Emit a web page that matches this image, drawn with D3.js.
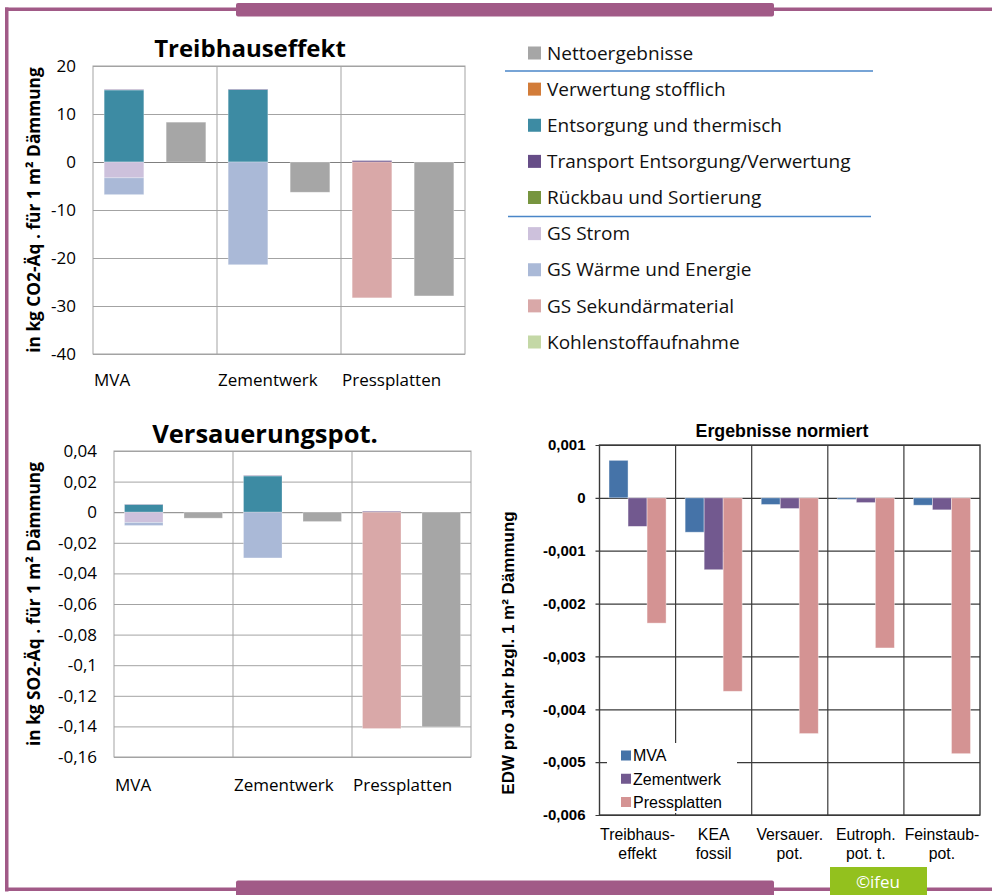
<!DOCTYPE html>
<html>
<head>
<meta charset="utf-8">
<script src="https://cdn.jsdelivr.net/npm/d3@7"></script>
<style>
  body { margin: 0; background: #fff; }
  svg { display: block; }
</style>
</head>
<body>
<svg id="chart" width="992" height="895"></svg>
<script>
// ---------- data ----------
const groups = ["MVA", "Zementwerk", "Pressplatten"];

const seriesNames = [
  "Nettoergebnisse",
  "Verwertung stofflich",
  "Entsorgung und thermisch",
  "Transport Entsorgung/Verwertung",
  "Rückbau und Sortierung",
  "GS Strom",
  "GS Wärme und Energie",
  "GS Sekundärmaterial",
  "Kohlenstoffaufnahme"
];
const seriesColors = ["#a6a6a6", "#d27c39", "#3d8ba3", "#664d87", "#77953f",
                      "#cdc1dc", "#aab9d7", "#d9a8a8", "#c4d8a6"];

// Treibhauseffekt, kg CO2-Äq. per m² insulation (MVA, Zementwerk, Pressplatten)
const thgVerwertung  = [0, 0, 0];
const thgEntsorgung  = [15.0, 15.1, 0];
const thgTransport   = [0.1, 0.1, 0.3];
const thgRueckbau    = [0, 0, 0];
const thgStrom       = [-3.3, 0, 0];
const thgWaerme      = [-3.5, -21.4, 0];
const thgSekundaer   = [0, 0, -28.3];
const thgKohlenstoff = [0, 0, 0];
const thgNetto       = [8.3, -6.3, -27.9];
const thgTicks       = [20, 10, 0, -10, -20, -30, -40];

// Versauerungspotenzial, kg SO2-Äq. per m² insulation
const apVerwertung  = [0, 0, 0];
const apEntsorgung  = [0.005, 0.0237, 0];
const apTransport   = [0.0002, 0.0003, 0.0006];
const apRueckbau    = [0, 0, 0];
const apStrom       = [-0.0067, 0, 0];
const apWaerme      = [-0.002, -0.0299, 0];
const apSekundaer   = [0, 0, -0.1414];
const apKohlenstoff = [0, 0, 0];
const apNetto       = [-0.0039, -0.0061, -0.1403];
const apTicks       = [0.04, 0.02, 0, -0.02, -0.04, -0.06, -0.08, -0.1, -0.12, -0.14, -0.16];

// Normalised results, EDW per year per m² insulation
const normCategories = [["Treibhaus-", "effekt"], ["KEA", "fossil"], ["Versauer.", "pot."],
                        ["Eutroph.", "pot. t."], ["Feinstaub-", "pot."]];
const normSeries = ["MVA", "Zementwerk", "Pressplatten"];
const normColors = ["#4573a8", "#72598f", "#d49393"];
const normMVA     = [0.00071, -0.00065, -0.000126, -0.00003, -0.000139];
const normZement  = [-0.00054, -0.00136, -0.000202, -0.00009, -0.000227];
const normPress   = [-0.00237, -0.00366, -0.00446, -0.00284, -0.00484];
const normTicks   = [0.001, 0, -0.001, -0.002, -0.003, -0.004, -0.005, -0.006];

// ---------- helpers ----------
const svg = d3.select("#chart");
const LEFT_FONT = "'Open Sans', 'Noto Sans', sans-serif";
const ARIAL = "Arial, 'Liberation Sans', sans-serif";
const fmt = v => (Math.round(v * 100000) / 100000).toString().replace(".", ",");

// Stacked component chart with a separate net-result bar per group
function stackedChart(cfg) {
  const { x0, x1, y0, y1, domain, ticks, comps, netto, title, titleX, titleY, titleSize,
          yTitle, yTitleX, pad, labelY } = cfg;
  const g = svg.append("g");

  const y = d3.scaleLinear().domain(domain).range([y1, y0]);
  const gx = d3.scaleBand().domain(groups).range([x0, x1]).padding(0);
  const sx = d3.scaleBand().domain(["stack", "net"]).range([0, gx.bandwidth()])
    .paddingInner(pad).paddingOuter(pad / 2);

  // horizontal grid
  g.append("g").attr("transform", `translate(${x1},0)`)
    .call(d3.axisRight(y).tickValues(ticks).tickSize(-(x1 - x0)).tickFormat(""))
    .call(a => a.select(".domain").remove())
    .call(a => a.selectAll("line").attr("stroke", d => d === 0 ? "#7f7f7f" : "#a3a3a3"));
  // vertical group dividers
  g.append("g").selectAll("line").data(groups.slice(1)).join("line")
    .attr("x1", d => gx(d)).attr("x2", d => gx(d)).attr("y1", y0).attr("y2", y1)
    .attr("stroke", "#a3a3a3");
  g.append("rect").attr("x", x0).attr("y", y0).attr("width", x1 - x0).attr("height", y1 - y0)
    .attr("fill", "none").attr("stroke", "#a3a3a3");

  // stacked components
  const keys = seriesNames.slice(1);
  const rows = groups.map((grp, i) => {
    const r = { group: grp };
    keys.forEach((k, j) => r[k] = comps[j][i]);
    return r;
  });
  const stack = d3.stack().keys(keys).offset(d3.stackOffsetDiverging)(rows);
  stack.forEach((layer, li) => {
    g.append("g").attr("fill", seriesColors[li + 1])
      .selectAll("rect").data(layer.filter(d => d[1] - d[0] !== 0)).join("rect")
      .attr("x", d => gx(d.data.group) + sx("stack"))
      .attr("width", sx.bandwidth())
      .attr("y", d => y(Math.max(d[0], d[1])))
      .attr("height", d => Math.abs(y(d[0]) - y(d[1])))
      .attr("stroke", "#fff").attr("stroke-opacity", 0.35).attr("stroke-width", 0.8);
  });
  // net results
  g.append("g").attr("fill", seriesColors[0])
    .selectAll("rect").data(netto).join("rect")
    .attr("x", (d, i) => gx(groups[i]) + sx("net"))
    .attr("width", sx.bandwidth())
    .attr("y", d => y(Math.max(0, d)))
    .attr("height", d => Math.abs(y(d) - y(0)))
    .attr("stroke", "#fff").attr("stroke-opacity", 0.35).attr("stroke-width", 0.8);

  // y tick labels
  g.append("g").attr("transform", `translate(${x0 - 17},0)`)
    .call(d3.axisLeft(y).tickValues(ticks).tickSize(0).tickPadding(0).tickFormat(fmt))
    .call(a => a.select(".domain").remove())
    .call(a => a.selectAll("text").attr("font-family", LEFT_FONT).attr("font-size", 17)
      .attr("fill", "#000"));

  // category labels, left-aligned on each group
  g.append("g").selectAll("text").data(groups).join("text")
    .attr("x", d => gx(d) + 1).attr("y", labelY)
    .attr("font-family", LEFT_FONT).attr("font-size", 17).attr("fill", "#000")
    .text(d => d);

  // title and axis title
  g.append("text").attr("x", titleX).attr("y", titleY).attr("text-anchor", "middle")
    .attr("font-family", LEFT_FONT).attr("font-weight", "bold").attr("font-size", titleSize)
    .text(title);
  g.append("text")
    .attr("transform", `translate(${yTitleX},${(y0 + y1) / 2}) rotate(-90)`)
    .attr("text-anchor", "middle").attr("font-family", LEFT_FONT)
    .attr("font-weight", "bold").attr("font-size", 17.3).text(yTitle);
}

// ---------- frame ----------
const frameColor = "#a15a87";
svg.append("rect").attr("x", 5).attr("y", 7.5).attr("width", 987).attr("height", 3.5).attr("fill", frameColor);
svg.append("rect").attr("x", 5).attr("y", 7.5).attr("width", 3.5).attr("height", 884).attr("fill", frameColor);
svg.append("rect").attr("x", 5).attr("y", 887.5).attr("width", 987).attr("height", 3.5).attr("fill", frameColor);
svg.append("rect").attr("x", 236).attr("y", 3).attr("width", 538).attr("height", 13.5).attr("rx", 2).attr("fill", frameColor);
svg.append("rect").attr("x", 236).attr("y", 880.5).attr("width", 538).attr("height", 16).attr("rx", 2).attr("fill", frameColor);

// ---------- Treibhauseffekt ----------
stackedChart({
  x0: 93, x1: 465, y0: 66, y1: 354, domain: [-40, 20], ticks: thgTicks,
  comps: [thgVerwertung, thgEntsorgung, thgTransport, thgRueckbau, thgStrom,
          thgWaerme, thgSekundaer, thgKohlenstoff],
  netto: thgNetto, title: "Treibhauseffekt", titleX: 250, titleY: 57, titleSize: 24,
  yTitle: "in kg CO2-Äq . für 1 m² Dämmung", yTitleX: 40, pad: 0.36, labelY: 386
});

// ---------- Versauerungspotenzial ----------
stackedChart({
  x0: 114, x1: 471, y0: 451, y1: 757, domain: [-0.16, 0.04], ticks: apTicks,
  comps: [apVerwertung, apEntsorgung, apTransport, apRueckbau, apStrom,
          apWaerme, apSekundaer, apKohlenstoff],
  netto: apNetto, title: "Versauerungspot.", titleX: 265, titleY: 443, titleSize: 25.5,
  yTitle: "in kg SO2-Äq . für 1 m² Dämmung", yTitleX: 40, pad: 0.353, labelY: 791
});

// ---------- shared legend ----------
const legend = svg.append("g");
const legendY = d3.scalePoint().domain(seriesNames).range([53, 342]);
legend.selectAll("rect").data(seriesNames).join("rect")
  .attr("x", 528).attr("y", d => legendY(d) - 6.5).attr("width", 13).attr("height", 13)
  .attr("fill", (d, i) => seriesColors[i]);
legend.selectAll("text").data(seriesNames).join("text")
  .attr("x", 547).attr("y", d => legendY(d)).attr("dy", "0.35em")
  .attr("font-family", LEFT_FONT).attr("font-size", 19).attr("fill", "#111")
  .text(d => d);
[[71, 505, 873], [216.5, 508, 871]].forEach(([ly, lx1, lx2]) =>
  legend.append("line").attr("x1", lx1).attr("x2", lx2).attr("y1", ly).attr("y2", ly)
    .attr("stroke", "#4a86c8").attr("stroke-width", 1.3));

// ---------- Ergebnisse normiert ----------
(function () {
  const x0 = 599.5, x1 = 980, y0 = 445, y1 = 815;
  const g = svg.append("g");
  const y = d3.scaleLinear().domain([-0.006, 0.001]).range([y1, y0]);
  const cx = d3.scaleBand().domain(d3.range(normCategories.length)).range([x0, x1]).padding(0);
  const bx = d3.scaleBand().domain(normSeries).range([0, cx.bandwidth()])
    .paddingInner(0).paddingOuter(0.5);
  const lineColor = "#3a3a3a";

  g.append("g").attr("transform", `translate(${x1},0)`)
    .call(d3.axisRight(y).tickValues(normTicks).tickSize(-(x1 - x0 + 4)).tickFormat(""))
    .call(a => a.select(".domain").remove())
    .call(a => a.selectAll("line").attr("stroke", lineColor).attr("stroke-width", 1.2));
  g.append("g").selectAll("line").data(d3.range(1, normCategories.length)).join("line")
    .attr("x1", d => cx(d)).attr("x2", d => cx(d)).attr("y1", y0).attr("y2", y1)
    .attr("stroke", lineColor).attr("stroke-width", 1.2);
  g.append("rect").attr("x", x0).attr("y", y0).attr("width", x1 - x0).attr("height", y1 - y0)
    .attr("fill", "none").attr("stroke", lineColor).attr("stroke-width", 1.4);

  const seriesVals = [normMVA, normZement, normPress];
  normSeries.forEach((s, si) => {
    g.append("g").attr("fill", normColors[si])
      .selectAll("rect").data(seriesVals[si]).join("rect")
      .attr("x", (d, i) => cx(i) + bx(s))
      .attr("width", bx.bandwidth())
      .attr("y", d => y(Math.max(0, d)))
      .attr("height", d => Math.abs(y(d) - y(0)))
      .attr("stroke", "#fff").attr("stroke-opacity", 0.5).attr("stroke-width", 0.8);
  });

  // y tick labels
  g.append("g").attr("transform", `translate(${x0 - 14},0)`)
    .call(d3.axisLeft(y).tickValues(normTicks).tickSize(0).tickPadding(0).tickFormat(fmt))
    .call(a => a.select(".domain").remove())
    .call(a => a.selectAll("text").attr("font-family", ARIAL).attr("font-weight", "bold")
      .attr("font-size", 15).attr("fill", "#000"));

  // category labels (two lines)
  const lbl = g.append("g").selectAll("text").data(normCategories).join("text")
    .attr("text-anchor", "middle").attr("font-family", ARIAL).attr("font-size", 15.8)
    .attr("fill", "#000");
  lbl.selectAll("tspan").data((d, i) => d.map(t => ({ t, i }))).join("tspan")
    .attr("x", d => cx(d.i) + cx.bandwidth() / 2)
    .attr("y", (d, k) => 840 + k * 19)
    .text(d => d.t);

  g.append("text").attr("x", 782).attr("y", 437).attr("text-anchor", "middle")
    .attr("font-family", ARIAL).attr("font-weight", "bold").attr("font-size", 17.8)
    .text("Ergebnisse normiert");
  g.append("text").attr("transform", "translate(514,653) rotate(-90)")
    .attr("text-anchor", "middle").attr("font-family", ARIAL).attr("font-weight", "bold")
    .attr("font-size", 17).text("EDW pro Jahr bzgl. 1 m² Dämmung");

  // legend with white background
  const lg = g.append("g");
  lg.append("rect").attr("x", 607).attr("y", 743).attr("width", 130).attr("height", 70).attr("fill", "#fff");
  const ly = d3.scalePoint().domain(normSeries).range([755.5, 802]);
  lg.selectAll("rect.sw").data(normSeries).join("rect").attr("class", "sw")
    .attr("x", 621).attr("y", d => ly(d) - 5).attr("width", 10).attr("height", 10)
    .attr("fill", (d, i) => normColors[i]);
  lg.selectAll("text").data(normSeries).join("text")
    .attr("x", 633).attr("y", d => ly(d)).attr("dy", "0.36em")
    .attr("font-family", ARIAL).attr("font-size", 16).attr("fill", "#000")
    .text(d => d);
})();

// ---------- copyright badge ----------
svg.append("rect").attr("x", 830).attr("y", 867).attr("width", 97).attr("height", 28).attr("fill", "#93c11e");
svg.append("text").attr("x", 878).attr("y", 888).attr("text-anchor", "middle")
  .attr("font-family", LEFT_FONT).attr("font-size", 17).attr("fill", "#fff").text("©ifeu");
</script>
</body>
</html>
